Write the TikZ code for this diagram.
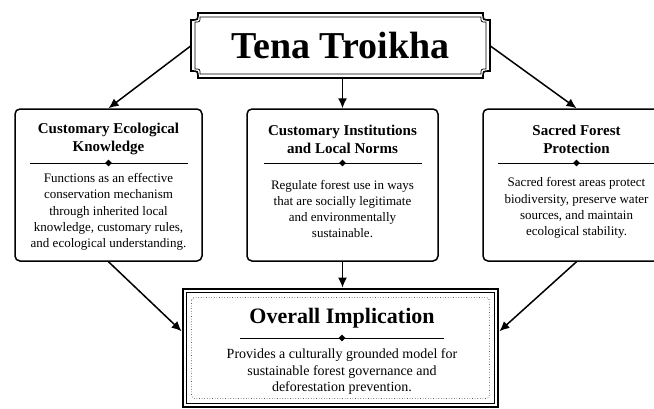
\documentclass[tikz,border=0pt]{standalone}
\usepackage{fontspec}
\setmainfont{Liberation Serif}
\usepackage{tikz}
\usetikzlibrary{positioning,shapes.geometric,arrows.meta,calc}

% frame with cut-in corners: style, x1, y1, x2, y2, radius
\newcommand{\notchframe}[6]{%
  \draw[#1] (#2+#6,#3) -- (#4-#6,#3) .. controls (#4-#6,#3+#6) .. (#4,#3+#6)
    -- (#4,#5-#6) .. controls (#4-#6,#5-#6) .. (#4-#6,#5)
    -- (#2+#6,#5) .. controls (#2+#6,#5-#6) .. (#2,#5-#6)
    -- (#2,#3+#6) .. controls (#2+#6,#3+#6) .. cycle;}

\tikzset{
  colbox/.style={rectangle, rounded corners=5pt, draw, line width=1.5pt, minimum height=152pt, inner sep=0pt},
  headtxt/.style={align=center, font=\bfseries\fontsize{15}{18}\selectfont},
  bodytxt/.style={align=center, font=\fontsize{13}{16.3}\selectfont},
  divline/.style={line width=0.8pt},
  gem/.style={diamond, fill=black, inner sep=0pt, minimum size=7pt},
  arr/.style={-{Latex[length=10pt,width=9pt]}, line width=1.5pt},
}

\begin{document}
\begin{tikzpicture}[x=1pt,y=-1pt]
    \clip (0,0) rectangle (654,408);
    \fill[white] (0,0) rectangle (654,408);

    % title
    \node[rectangle, minimum width=298pt, minimum height=65pt, inner sep=0pt, font=\bfseries\fontsize{38}{42}\selectfont] (title) at (340.5,45.5) {Tena Troikha};
    \notchframe{line width=1.6pt}{191}{13}{490}{78}{7}
    \notchframe{line width=0.7pt}{195}{17}{486}{74}{5}

    % three columns
    \node[colbox, minimum width=187pt] (lbox) at (108.5,185) {};
    \node[colbox, minimum width=191pt] (mbox) at (342.5,185) {};
    \node[colbox, minimum width=187pt] (rbox) at (576.5,185) {};

    \node[headtxt] (lhead) at (108.5,139) {Customary Ecological\\Knowledge};
    \node[headtxt] (mhead) at (342.5,139) {Customary Institutions\\and Local Norms};
    \node[headtxt] (rhead) at (576.5,139) {Sacred Forest\\Protection};

    \node[gem] (lgem) at (108.5,163) {};
    \node[gem] (mgem) at (342.5,163) {};
    \node[gem] (rgem) at (576.5,163) {};
    \draw[divline] ($(lgem)+(-79,0)$) -- ($(lgem)+(79,0)$);
    \draw[divline] ($(mgem)+(-79,0)$) -- ($(mgem)+(79,0)$);
    \draw[divline] ($(rgem)+(-79,0)$) -- ($(rgem)+(79,0)$);

    \node[bodytxt] (lbody) at (108.5,212) {Functions as an effective\\conservation mechanism\\through inherited local\\knowledge, customary rules,\\and ecological understanding.};
    \node[bodytxt] (mbody) at (342.5,209) {Regulate forest use in ways\\that are socially legitimate\\and environmentally\\sustainable.};
    \node[bodytxt] (rbody) at (576.5,208) {Sacred forest areas protect\\biodiversity, preserve water\\sources, and maintain\\ecological stability.};

    % overall implication
    \node[rectangle, draw, line width=2.8pt, minimum width=315pt, minimum height=118pt, inner sep=0pt] (impl) at (340.5,348) {};
    \draw[line width=0.8pt] ($(impl.north west)+(5,5)$) rectangle ($(impl.south east)+(-5,-5)$);
    \draw[dotted, line width=0.6pt, rounded corners=3pt] ($(impl.north west)+(10,10)$) rectangle ($(impl.south east)+(-10,-10)$);
    \node[font=\bfseries\fontsize{22}{26}\selectfont] (ihead) at (342,318) {Overall Implication};
    \node[gem] (igem) at (342,338) {};
    \draw[divline] ($(igem)+(-102,0)$) -- ($(igem)+(102,0)$);
    \node[align=center, font=\fontsize{14}{16.5}\selectfont] (ibody) at (342,372) {Provides a culturally grounded model for\\sustainable forest governance and\\deforestation prevention.};

    % arrows
    \draw[arr] (title.west) -- (lbox.north);
    \draw[arr] (mbox.north |- title.south) -- (mbox.north);
    \draw[arr] (title.east) -- (rbox.north);
    \draw[arr] (lbox.south) -- (impl.174);
    \draw[arr] (mbox.south) -- (mbox.south |- impl.north);
    \draw[arr] (rbox.south) -- (impl.6);
\end{tikzpicture}
\end{document}
